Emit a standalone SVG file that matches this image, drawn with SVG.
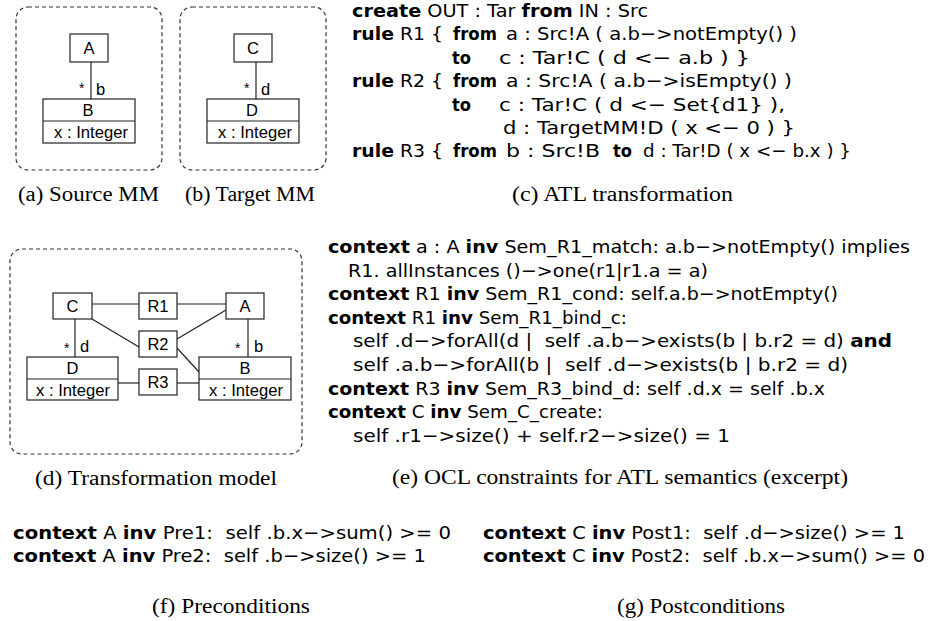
<svg xmlns="http://www.w3.org/2000/svg" width="933" height="621" viewBox="0 0 933 621">
<style>
.code{font-family:"DejaVu Sans",sans-serif;font-size:18px;fill:#000}
.b{font-weight:bold}
.cap{font-family:"Liberation Serif",serif;font-size:20px;fill:#000}
.lbl{font-family:"Liberation Sans",Arial,sans-serif;font-size:16.5px;fill:#000;text-anchor:middle}
.att{font-family:"Liberation Sans",Arial,sans-serif;font-size:16.5px;fill:#000}
.mul{font-family:"Liberation Sans",Arial,sans-serif;font-size:14px;fill:#000}
.box{fill:#fff;stroke:#222;stroke-width:1.2}
.frame{fill:none;stroke:#333;stroke-width:1.2;stroke-dasharray:4 3}
.edge{stroke:#222;stroke-width:1.2;fill:none}
</style>
<rect width="933" height="621" fill="#fff"/>

<!-- (a) Source MM -->
<g id="sourceMM">
<rect class="frame" x="16" y="7" width="146" height="163" rx="12"/>
<line class="edge" x1="91" y1="62" x2="91" y2="99"/>
<g id="srcA"><rect class="box" x="70" y="34" width="38" height="28"/><text class="lbl" x="89" y="54">A</text></g>
<g id="srcB"><rect class="box" x="43" y="99" width="92" height="44"/><line class="edge" x1="43" y1="121" x2="135" y2="121"/>
<text class="lbl" x="88" y="115.5">B</text><text class="att" x="54" y="137.5" textLength="74" lengthAdjust="spacingAndGlyphs">x : Integer</text></g>
<text class="mul" x="79" y="93">*</text><text class="att" x="96" y="95">b</text>
</g>

<!-- (b) Target MM -->
<g id="targetMM">
<rect class="frame" x="180" y="7" width="146" height="163" rx="12"/>
<line class="edge" x1="256" y1="62" x2="256" y2="99"/>
<g id="tgtC"><rect class="box" x="234" y="34" width="38" height="28"/><text class="lbl" x="253" y="54">C</text></g>
<g id="tgtD"><rect class="box" x="207" y="99" width="92" height="44"/><line class="edge" x1="207" y1="121" x2="299" y2="121"/>
<text class="lbl" x="252" y="115.5">D</text><text class="att" x="218" y="137.5" textLength="74" lengthAdjust="spacingAndGlyphs">x : Integer</text></g>
<text class="mul" x="244" y="93">*</text><text class="att" x="261" y="95">d</text>
</g>

<text class="cap" x="18" y="201" textLength="141" lengthAdjust="spacingAndGlyphs">(a) Source MM</text>
<text class="cap" x="185" y="201" textLength="130" lengthAdjust="spacingAndGlyphs">(b) Target MM</text>

<!-- (c) ATL -->
<g id="atl">
<text class="code" x="352" y="17" textLength="296" lengthAdjust="spacingAndGlyphs"><tspan class="b">create</tspan> OUT : Tar <tspan class="b">from</tspan> IN : Src</text>
<text class="code" x="352" y="40.4" textLength="91" lengthAdjust="spacingAndGlyphs"><tspan class="b">rule</tspan> R1 {</text>
<text class="code b" x="453" y="40.4" textLength="44" lengthAdjust="spacingAndGlyphs">from</text>
<text class="code" x="506" y="40.4" textLength="291" lengthAdjust="spacingAndGlyphs">a : Src!A ( a.b−&gt;notEmpty() )</text>
<text class="code b" x="452" y="63.8" textLength="19" lengthAdjust="spacingAndGlyphs">to</text>
<text class="code" x="499" y="63.8" textLength="251" lengthAdjust="spacingAndGlyphs">c : Tar!C ( d &lt;− a.b ) }</text>
<text class="code" x="352" y="87.2" textLength="91" lengthAdjust="spacingAndGlyphs"><tspan class="b">rule</tspan> R2 {</text>
<text class="code b" x="453" y="87.2" textLength="44" lengthAdjust="spacingAndGlyphs">from</text>
<text class="code" x="506" y="87.2" textLength="286" lengthAdjust="spacingAndGlyphs">a : Src!A ( a.b−&gt;isEmpty() )</text>
<text class="code b" x="452" y="110.6" textLength="19" lengthAdjust="spacingAndGlyphs">to</text>
<text class="code" x="499" y="110.6" textLength="286" lengthAdjust="spacingAndGlyphs">c : Tar!C ( d &lt;− Set{d1} ),</text>
<text class="code" x="503" y="134" textLength="292" lengthAdjust="spacingAndGlyphs">d : TargetMM!D ( x &lt;− 0 ) }</text>
<text class="code" x="352" y="157.4" textLength="91" lengthAdjust="spacingAndGlyphs"><tspan class="b">rule</tspan> R3 {</text>
<text class="code b" x="453" y="157.4" textLength="44" lengthAdjust="spacingAndGlyphs">from</text>
<text class="code" x="506" y="157.4" textLength="94" lengthAdjust="spacingAndGlyphs">b : Src!B</text>
<text class="code b" x="613" y="157.4" textLength="19" lengthAdjust="spacingAndGlyphs">to</text>
<text class="code" x="643" y="157.4" textLength="208" lengthAdjust="spacingAndGlyphs">d : Tar!D ( x &lt;− b.x ) }</text>
</g>
<text class="cap" x="512" y="201" textLength="221" lengthAdjust="spacingAndGlyphs">(c) ATL transformation</text>

<!-- (d) Transformation model -->
<g id="tmodel">
<rect class="frame" x="10" y="249" width="292" height="205" rx="12"/>
<g id="connectors">
<line class="edge" x1="92" y1="304" x2="139" y2="304"/>
<line class="edge" x1="177" y1="304" x2="226" y2="304"/>
<line class="edge" x1="92" y1="319" x2="139" y2="347"/>
<line class="edge" x1="177" y1="339" x2="226" y2="310"/>
<line class="edge" x1="177" y1="348" x2="199" y2="372"/>
<line class="edge" x1="118" y1="383" x2="139" y2="383"/>
<line class="edge" x1="177" y1="383" x2="199" y2="383"/>
<line class="edge" x1="75" y1="319" x2="75" y2="357"/>
<line class="edge" x1="248" y1="319" x2="248" y2="357"/>
<text class="mul" x="64" y="353">*</text><text class="att" x="80" y="352">d</text>
<text class="mul" x="235" y="353">*</text><text class="att" x="254" y="352">b</text>
</g>
<g id="tmC"><rect class="box" x="53" y="293" width="39" height="26"/><text class="lbl" x="72.5" y="312">C</text></g>
<g id="tmR1"><rect class="box" x="139" y="293" width="38" height="26"/><text class="lbl" x="158" y="312">R1</text></g>
<g id="tmA"><rect class="box" x="226" y="293" width="38" height="26"/><text class="lbl" x="245" y="312">A</text></g>
<g id="tmR2"><rect class="box" x="139" y="331" width="38" height="26"/><text class="lbl" x="158" y="350">R2</text></g>
<g id="tmR3"><rect class="box" x="139" y="369" width="38" height="26"/><text class="lbl" x="158" y="388">R3</text></g>
<g id="tmD"><rect class="box" x="27" y="357" width="91" height="43"/><line class="edge" x1="27" y1="379" x2="118" y2="379"/>
<text class="lbl" x="72.5" y="373.5">D</text><text class="att" x="36" y="395.5" textLength="74" lengthAdjust="spacingAndGlyphs">x : Integer</text></g>
<g id="tmB"><rect class="box" x="199" y="357" width="92" height="43"/><line class="edge" x1="199" y1="379" x2="291" y2="379"/>
<text class="lbl" x="245" y="373.5">B</text><text class="att" x="209" y="395.5" textLength="74" lengthAdjust="spacingAndGlyphs">x : Integer</text></g>
</g>
<text class="cap" x="35" y="485" textLength="242" lengthAdjust="spacingAndGlyphs">(d) Transformation model</text>

<!-- (e) OCL -->
<g id="ocl">
<text class="code" x="328" y="253" textLength="582" lengthAdjust="spacingAndGlyphs"><tspan class="b">context</tspan> a : A <tspan class="b">inv</tspan> Sem_R1_match: a.b−&gt;notEmpty() implies</text>
<text class="code" x="348" y="276.6" textLength="360" lengthAdjust="spacingAndGlyphs">R1. allInstances ()−&gt;one(r1|r1.a = a)</text>
<text class="code" x="328" y="300.2" textLength="510" lengthAdjust="spacingAndGlyphs"><tspan class="b">context</tspan> R1 <tspan class="b">inv</tspan> Sem_R1_cond: self.a.b−&gt;notEmpty()</text>
<text class="code" x="328" y="323.8" textLength="299" lengthAdjust="spacingAndGlyphs"><tspan class="b">context</tspan> R1 <tspan class="b">inv</tspan> Sem_R1_bind_c:</text>
<text class="code" x="353" y="347.4" textLength="539" lengthAdjust="spacingAndGlyphs" xml:space="preserve">self .d−&gt;forAll(d |  self .a.b−&gt;exists(b | b.r2 = d) <tspan class="b">and</tspan></text>
<text class="code" x="353" y="371" textLength="495" lengthAdjust="spacingAndGlyphs" xml:space="preserve">self .a.b−&gt;forAll(b |  self .d−&gt;exists(b | b.r2 = d)</text>
<text class="code" x="328" y="394.6" textLength="497" lengthAdjust="spacingAndGlyphs"><tspan class="b">context</tspan> R3 <tspan class="b">inv</tspan> Sem_R3_bind_d: self .d.x = self .b.x</text>
<text class="code" x="328" y="418.2" textLength="275" lengthAdjust="spacingAndGlyphs"><tspan class="b">context</tspan> C <tspan class="b">inv</tspan> Sem_C_create:</text>
<text class="code" x="353" y="441.8" textLength="377" lengthAdjust="spacingAndGlyphs">self .r1−&gt;size() + self.r2−&gt;size() = 1</text>
</g>
<text class="cap" x="392" y="484" textLength="456" lengthAdjust="spacingAndGlyphs">(e) OCL constraints for ATL semantics (excerpt)</text>

<!-- (f) Preconditions -->
<g id="pre">
<text class="code" x="13" y="539" textLength="438" lengthAdjust="spacingAndGlyphs" xml:space="preserve"><tspan class="b">context</tspan> A <tspan class="b">inv</tspan> Pre1:  self .b.x−&gt;sum() &gt;= 0</text>
<text class="code" x="13" y="562" textLength="413" lengthAdjust="spacingAndGlyphs" xml:space="preserve"><tspan class="b">context</tspan> A <tspan class="b">inv</tspan> Pre2:  self .b−&gt;size() &gt;= 1</text>
</g>
<!-- (g) Postconditions -->
<g id="post">
<text class="code" x="483" y="539" textLength="422" lengthAdjust="spacingAndGlyphs" xml:space="preserve"><tspan class="b">context</tspan> C <tspan class="b">inv</tspan> Post1:  self .d−&gt;size() &gt;= 1</text>
<text class="code" x="483" y="562" textLength="442" lengthAdjust="spacingAndGlyphs" xml:space="preserve"><tspan class="b">context</tspan> C <tspan class="b">inv</tspan> Post2:  self .b.x−&gt;sum() &gt;= 0</text>
</g>
<text class="cap" x="152" y="613" textLength="158" lengthAdjust="spacingAndGlyphs">(f) Preconditions</text>
<text class="cap" x="617" y="613" textLength="168" lengthAdjust="spacingAndGlyphs">(g) Postconditions</text>
</svg>
